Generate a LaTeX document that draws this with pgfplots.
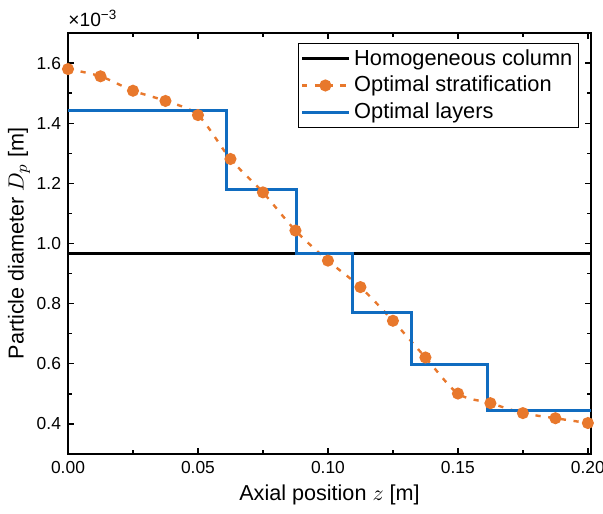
\documentclass[border=0pt]{standalone}
\usepackage{pgfplots}
\pgfplotsset{compat=1.18}
\usepackage{fontspec}
\setmainfont{Liberation Sans}
\definecolor{myorange}{RGB}{232,120,44}
\definecolor{myblue}{RGB}{16,108,192}
\begin{document}
\begin{tikzpicture}
\begin{axis}[
  name=ax,
  scale only axis,
  width=261.5pt, height=210.5pt,
  xmin=0, xmax=0.2012, ymin=0.3, ymax=1.7,
  xtick={0,0.05,0.10,0.15,0.20},
  xticklabels={0.00,0.05,0.10,0.15,0.20},
  ytick={0.4,0.6,0.8,1.0,1.2,1.4,1.6},
  yticklabels={0.4,0.6,0.8,1.0,1.2,1.4,1.6},
  minor xtick={0.025,0.075,0.125,0.175},
  minor ytick={0.3,0.5,0.7,0.9,1.1,1.3,1.5,1.7},
  tick align=inside,
  major tick length=3pt, minor tick length=2pt,
  every tick/.style={black, line width=0.7pt},
  axis line style={line width=0.9pt},
  tick label style={font=\fontsize{8.7}{10}\selectfont},
  /pgf/number format/assume math mode=true,
  xlabel={Axial position $z$ [m]},
  ylabel={Particle diameter $D_p$ [m]},
  label style={font=\fontsize{10.8}{12}\selectfont},
  xlabel style={yshift=1pt},
  ylabel style={yshift=-3.5pt},
  legend style={at={(rel axis cs:0.977,0.977)}, anchor=north east,
    font=\fontsize{10.9}{12}\selectfont, draw=black, line width=0.6pt,
    inner sep=1pt, row sep=0pt},
  legend cell align=left,
  legend image code/.code={
    \draw[#1] (0cm,0cm) -- (0.82cm,0cm);
    \path[#1, solid] plot coordinates {(0.41cm,0cm)};
  },
  clip=false,
]
\addplot[black, line width=1.5pt, mark=none] coordinates {(0,0.966) (0.2012,0.966)};
\addlegendentry{Homogeneous column}
\addplot[myorange, line width=1.2pt, dash pattern=on 2.6pt off 3.8pt, smooth,
  mark=*, mark size=2.4pt, mark options={solid, fill=myorange, draw=myorange}]
  coordinates {
  (0,1.580) (0.0125,1.556) (0.025,1.508) (0.0375,1.474) (0.05,1.427)
  (0.0625,1.281) (0.075,1.170) (0.0875,1.043) (0.10,0.943) (0.1125,0.855)
  (0.125,0.743) (0.1375,0.621) (0.15,0.501) (0.1625,0.469) (0.175,0.436)
  (0.1875,0.419) (0.20,0.403)};
\addlegendentry{Optimal stratification}
\addplot[myblue, line width=1.5pt, mark=none, const plot] coordinates {
  (0,1.442) (0.0609,1.178) (0.0879,0.966) (0.1093,0.771) (0.1323,0.599)
  (0.1615,0.443) (0.2012,0.443)};
\addlegendentry{Optimal layers}
\node[anchor=base west, font=\fontsize{9.6}{10}\selectfont, inner sep=0pt]
  at (rel axis cs:0,1) [yshift=3pt] {×10\textsuperscript{−3}};
\end{axis}
\pgfresetboundingbox
\path ([xshift=-34pt,yshift=-29.5pt]ax.south west) rectangle ([xshift=6pt,yshift=16.5pt]ax.north east);
\end{tikzpicture}
\end{document}
